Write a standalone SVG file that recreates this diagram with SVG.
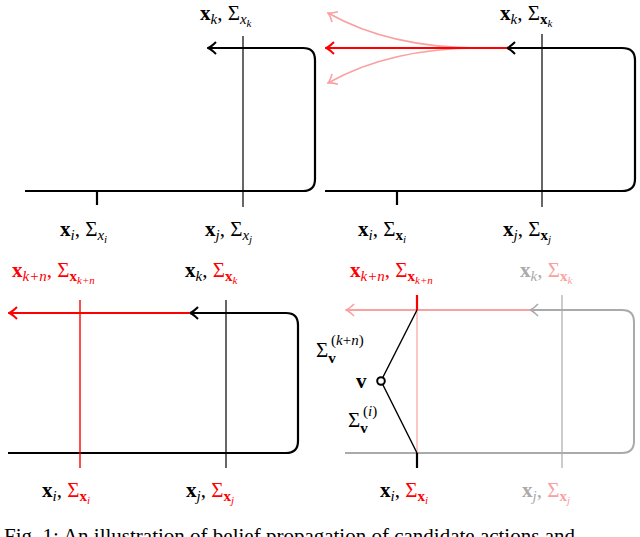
<svg xmlns="http://www.w3.org/2000/svg" width="640" height="537" viewBox="0 0 640 537">
<defs>
<marker id="ahk" markerWidth="10" markerHeight="14" refX="9" refY="7" orient="auto-start-reverse" markerUnits="userSpaceOnUse"><path d="M1,1 Q6,6 9,7 Q6,8 1,13" fill="none" stroke="#000" stroke-width="2"/></marker>
<marker id="ahr" markerWidth="10" markerHeight="14" refX="9" refY="7" orient="auto-start-reverse" markerUnits="userSpaceOnUse"><path d="M1,1 Q6,6 9,7 Q6,8 1,13" fill="none" stroke="#f00" stroke-width="2"/></marker>
<marker id="ahp" markerWidth="10" markerHeight="14" refX="9" refY="7" orient="auto-start-reverse" markerUnits="userSpaceOnUse"><path d="M1,1 Q6,6 9,7 Q6,8 1,13" fill="none" stroke="#f9a0a0" stroke-width="1.6"/></marker>
<marker id="ahg" markerWidth="10" markerHeight="14" refX="9" refY="7" orient="auto-start-reverse" markerUnits="userSpaceOnUse"><path d="M1,1 Q6,6 9,7 Q6,8 1,13" fill="none" stroke="#aaa" stroke-width="1.6"/></marker>
</defs>
<style>
text{font-family:"Liberation Serif","DejaVu Serif",serif;font-size:21px}
.b{font-weight:bold}
.s{font-size:15px}
.ss{font-size:11px;font-style:italic}
.i{font-style:italic}
.r{fill:#f00}.pr{fill:#f9a0a0}.g{fill:#aaa}
.k{fill:none;stroke:#000;stroke-width:2.2}
.t{fill:none;stroke:#000;stroke-width:1.2}
</style>
<g id="connectors">
<path class="k" d="M208,48 H303 Q315,48 315,60 V179 Q315,191 303,191 H25" marker-start="url(#ahk)"/>
<line class="t" x1="243" y1="36" x2="243" y2="207"/>
<line class="k" x1="97" y1="191" x2="97" y2="205"/>
<path class="k" d="M507,48 H622 Q635,48 635,60 V179 Q635,191 622,191 H325" marker-start="url(#ahk)"/>
<line class="t" x1="542" y1="34" x2="542" y2="207"/>
<line class="k" x1="397" y1="191" x2="397" y2="205"/>
<path d="M480,48 Q390,48 328,13" stroke="#f9a0a0" stroke-width="1.6" fill="none" marker-end="url(#ahp)"/>
<path d="M480,48 Q390,48 328,83" stroke="#f9a0a0" stroke-width="1.6" fill="none" marker-end="url(#ahp)"/>
<path d="M507,48 H326" stroke="#f00" stroke-width="2" fill="none" marker-end="url(#ahr)"/>
<path class="k" d="M190,313 H286 Q298,313 298,325 V441 Q298,453 286,453 H8" marker-start="url(#ahk)"/>
<line class="t" x1="226" y1="300" x2="226" y2="468"/>
<line x1="80" y1="300" x2="80" y2="468" stroke="#f00" stroke-width="1.4"/>
<path d="M190,313 H9" stroke="#f00" stroke-width="2" fill="none" marker-end="url(#ahr)"/>
<path d="M530,310 H622 Q634,310 634,322 V441 Q634,453 622,453 H345" fill="none" stroke="#aaa" stroke-width="2" marker-start="url(#ahg)"/>
<line x1="562" y1="295" x2="562" y2="468" stroke="#aaa" stroke-width="1.2"/>
<path d="M530,310 H346" stroke="#f9a0a0" stroke-width="2" fill="none" marker-end="url(#ahp)"/>
<line x1="417" y1="310" x2="417" y2="453" stroke="#f9a0a0" stroke-width="1.2"/>
<line x1="417" y1="295" x2="417" y2="310" stroke="#f00" stroke-width="2.2"/>
<line x1="417" y1="453" x2="417" y2="468" stroke="#000" stroke-width="2.2"/>
<polyline points="417,310 381,381 417,453" fill="none" stroke="#000" stroke-width="1.4"/>
<circle cx="381" cy="381" r="3.8" fill="#fff" stroke="#000" stroke-width="2"/>
</g>
<g id="labels">
<text x="200" y="20"><tspan class="b">x</tspan><tspan class="s i" dy="4">k</tspan><tspan dy="-4">, Σ</tspan><tspan class="s i" dy="4">x</tspan><tspan class="ss" dy="3">k</tspan></text>
<text x="60" y="236"><tspan class="b">x</tspan><tspan class="s i" dy="4">i</tspan><tspan dy="-4">, Σ</tspan><tspan class="s i" dy="4">x</tspan><tspan class="ss" dy="3">i</tspan></text>
<text x="205" y="236"><tspan class="b">x</tspan><tspan class="s i" dy="4">j</tspan><tspan dy="-4">, Σ</tspan><tspan class="s i" dy="4">x</tspan><tspan class="ss" dy="3">j</tspan></text>

<text x="500" y="20"><tspan class="b">x</tspan><tspan class="s i" dy="4">k</tspan><tspan dy="-4">, Σ</tspan><tspan class="s b" dy="4">x</tspan><tspan class="ss" dy="3">k</tspan></text>
<text x="358" y="236"><tspan class="b">x</tspan><tspan class="s i" dy="4">i</tspan><tspan dy="-4">, Σ</tspan><tspan class="s b" dy="4">x</tspan><tspan class="ss" dy="3">i</tspan></text>
<text x="503" y="236"><tspan class="b">x</tspan><tspan class="s i" dy="4">j</tspan><tspan dy="-4">, Σ</tspan><tspan class="s b" dy="4">x</tspan><tspan class="ss" dy="3">j</tspan></text>

<text x="12" y="277" class="r"><tspan class="b">x</tspan><tspan class="s i" dy="4">k+n</tspan><tspan dy="-4">, Σ</tspan><tspan class="s b" dy="4">x</tspan><tspan class="ss" dy="3">k+n</tspan></text>
<text x="185" y="277"><tspan class="b">x</tspan><tspan class="s i" dy="4">k</tspan><tspan dy="-4">, </tspan><tspan class="r">Σ</tspan><tspan class="s b r" dy="4">x</tspan><tspan class="ss r" dy="3">k</tspan></text>
<text x="42" y="497"><tspan class="b">x</tspan><tspan class="s i" dy="4">i</tspan><tspan dy="-4">, </tspan><tspan class="r">Σ</tspan><tspan class="s b r" dy="4">x</tspan><tspan class="ss r" dy="3">i</tspan></text>
<text x="186" y="497"><tspan class="b">x</tspan><tspan class="s i" dy="4">j</tspan><tspan dy="-4">, </tspan><tspan class="r">Σ</tspan><tspan class="s b r" dy="4">x</tspan><tspan class="ss r" dy="3">j</tspan></text>

<text x="350" y="277" class="r"><tspan class="b">x</tspan><tspan class="s i" dy="4">k+n</tspan><tspan dy="-4">, Σ</tspan><tspan class="s b" dy="4">x</tspan><tspan class="ss" dy="3">k+n</tspan></text>
<text x="520" y="277" class="g"><tspan class="b">x</tspan><tspan class="s i" dy="4">k</tspan><tspan dy="-4">, </tspan><tspan class="pr">Σ</tspan><tspan class="s b pr" dy="4">x</tspan><tspan class="ss pr" dy="3">k</tspan></text>
<text x="380" y="497"><tspan class="b">x</tspan><tspan class="s i" dy="4">i</tspan><tspan dy="-4">, </tspan><tspan class="r">Σ</tspan><tspan class="s b r" dy="4">x</tspan><tspan class="ss r" dy="3">i</tspan></text>
<text x="522" y="497" class="g"><tspan class="b">x</tspan><tspan class="s i" dy="4">j</tspan><tspan dy="-4">, </tspan><tspan class="pr">Σ</tspan><tspan class="s b pr" dy="4">x</tspan><tspan class="ss pr" dy="3">j</tspan></text>

<text x="316" y="357">Σ<tspan class="s b" dy="6">v</tspan></text>
<text x="331" y="345" class="s">(<tspan class="i">k</tspan>+<tspan class="i">n</tspan>)</text>
<text x="356" y="388" class="b">v</text>
<text x="348" y="427">Σ<tspan class="s b" dy="6">v</tspan></text>
<text x="363" y="416" class="s">(<tspan class="i">i</tspan>)</text>
<text x="4" y="543">Fig. 1: An illustration of belief propagation of candidate actions and</text>
</g>
</svg>
